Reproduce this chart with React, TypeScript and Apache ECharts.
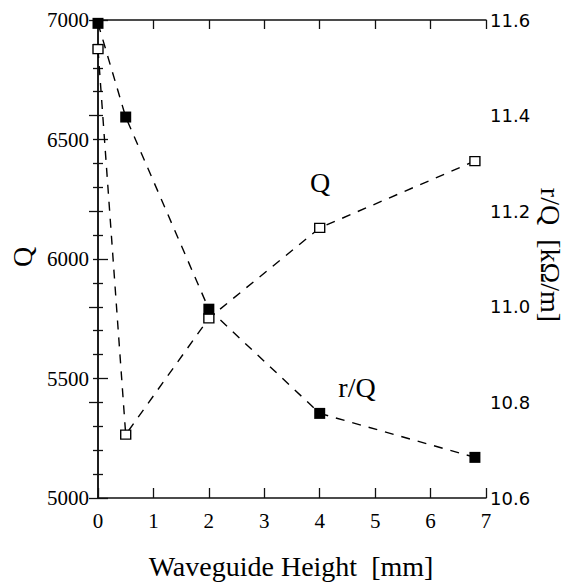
import React, { useEffect, useRef } from "react";
import * as echarts from "echarts";

const xTicks = [0, 1, 2, 3, 4, 5, 6, 7];
const heightsQ = [0, 0.5, 2, 4, 6.8];
const qValues = [6878, 5265, 5752, 6130, 6410];
const heightsRQ = [0, 0.5, 2, 4, 6.8];
const rqValues = [11.593, 11.397, 10.995, 10.777, 10.685];

const SERIF = "Times New Roman";
const SANS = "DejaVu Sans";

export default function App() {
  const ref = useRef<HTMLDivElement>(null);
  useEffect(() => {
    if (!ref.current) return;
    const chart = echarts.init(ref.current, null, { renderer: "svg" });
    const axisLine = { show: true, lineStyle: { color: "#111", width: 1.5 } };
    const tickStyle = { color: "#111", width: 1.3 };
    const textStyle = (text: string, size: number) => ({
      text,
      fontFamily: SERIF,
      fontSize: size,
      fill: "#000",
      align: "center",
      verticalAlign: "middle",
      textAlign: "center",
      textVerticalAlign: "middle",
    });
    const option: any = {
      animation: false,
      backgroundColor: "#fff",
      grid: { left: 98, right: 79, top: 20, bottom: 85, containLabel: false, outerBoundsMode: "none" },
      xAxis: [
        {
          type: "value",
          position: "bottom",
          min: xTicks[0],
          max: xTicks[xTicks.length - 1],
          interval: 1,
          axisLine,
          axisTick: { show: true, inside: true, length: 10, lineStyle: tickStyle },
          splitLine: { show: false },
          axisLabel: { color: "#000", fontFamily: SERIF, fontSize: 21, margin: 12, formatter: (v: number) => String(v) },
        },
        {
          type: "value",
          position: "top",
          min: xTicks[0],
          max: xTicks[xTicks.length - 1],
          interval: 1,
          axisLine,
          axisTick: { show: true, inside: true, length: 9, lineStyle: tickStyle },
          splitLine: { show: false },
          axisLabel: { show: false },
        },
      ],
      yAxis: [
        {
          type: "value",
          position: "left",
          min: 5000,
          max: 7000,
          interval: 500,
          axisLine,
          axisTick: { show: true, inside: true, length: 10, lineStyle: tickStyle },
          minorTick: { show: true, splitNumber: 5, length: 5, lineStyle: tickStyle },
          splitLine: { show: false },
          minorSplitLine: { show: false },
          axisLabel: { color: "#000", fontFamily: SERIF, fontSize: 21, margin: 9, formatter: (v: number) => String(v) },
        },
        {
          type: "value",
          position: "right",
          min: 10.6,
          max: 11.6,
          interval: 0.2,
          axisLine,
          axisTick: { show: true, inside: true, length: 9, lineStyle: tickStyle },
          minorTick: { show: true, splitNumber: 4, length: 5, lineStyle: tickStyle },
          splitLine: { show: false },
          minorSplitLine: { show: false },
          axisLabel: {
            color: "#000",
            fontFamily: SANS,
            fontSize: 18,
            margin: 4,
            formatter: (v: number) => v.toFixed(1),
          },
        },
      ],
      series: [
        {
          name: "Q",
          type: "line",
          xAxisIndex: 0,
          yAxisIndex: 0,
          data: heightsQ.map((h, i) => [h, qValues[i]]),
          symbol: "rect",
          symbolSize: [10, 9],
          showAllSymbol: true,
          clip: false,
          z: 5,
          lineStyle: { color: "#000", width: 1.4, type: [9, 8] },
          itemStyle: { color: "#fff", borderColor: "#000", borderWidth: 1.3 },
        },
        {
          name: "r/Q",
          type: "line",
          xAxisIndex: 0,
          yAxisIndex: 1,
          data: heightsRQ.map((h, i) => [h, rqValues[i]]),
          symbol: "rect",
          symbolSize: 11,
          showAllSymbol: true,
          clip: false,
          z: 5,
          lineStyle: { color: "#000", width: 1.4, type: [9, 8] },
          itemStyle: { color: "#000", borderColor: "#000", borderWidth: 0 },
        },
      ],
      graphic: [
        { type: "text", x: 291, y: 566, style: textStyle("Waveguide Height  [mm]", 28) },
        { type: "text", x: 22, y: 257, rotation: Math.PI / 2, style: textStyle("Q", 28) },
        { type: "text", x: 550, y: 255, rotation: -Math.PI / 2, style: textStyle("r/Q  [kΩ/m]", 28) },
        { type: "text", x: 320, y: 182, style: textStyle("Q", 28) },
        { type: "text", x: 357, y: 387, style: textStyle("r/Q", 28) },
      ],
    };
    chart.setOption(option);
    return () => chart.dispose();
  }, []);
  return (
    <div
      ref={ref}
      style={{ position: "fixed", left: 0, top: 0, width: 565, height: 583, background: "#fff" }}
    />
  );
}
